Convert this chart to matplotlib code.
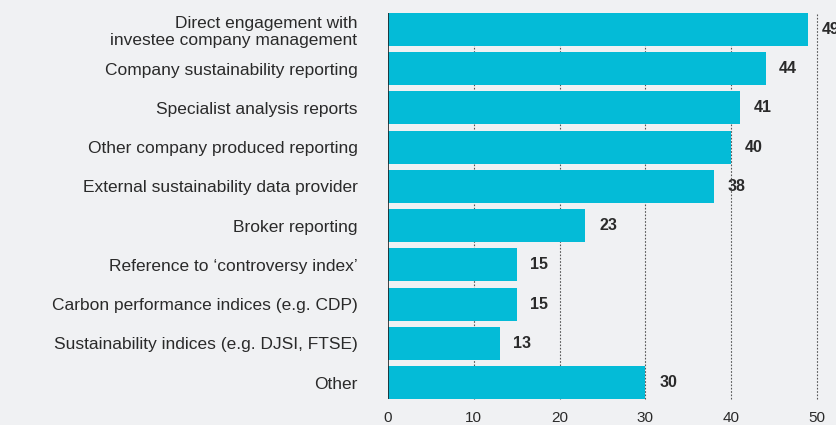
import matplotlib
matplotlib.use("Agg")
import matplotlib.pyplot as plt
from matplotlib import font_manager

categories = [
    "Direct engagement with\ninvestee company management",
    "Company sustainability reporting",
    "Specialist analysis reports",
    "Other company produced reporting",
    "External sustainability data provider",
    "Broker reporting",
    "Reference to \u2018controversy index\u2019",
    "Carbon performance indices (e.g. CDP)",
    "Sustainability indices (e.g. DJSI, FTSE)",
    "Other",
]
values = [49, 44, 41, 40, 38, 23, 15, 15, 13, 30]
x_ticks = [0, 10, 20, 30, 40, 50]

names = {f.name for f in font_manager.fontManager.ttflist}
fam = ["Liberation Sans Narrow", "DejaVu Sans"] if "Liberation Sans Narrow" in names else ["Liberation Sans", "DejaVu Sans"]
plt.rcParams["font.family"] = fam

bg = "#f0f1f3"
bar_color = "#04bbd7"
text_color = "#2a2a2a"

fig = plt.figure(figsize=(8.37, 4.25), dpi=100, facecolor=bg)
ax = fig.add_axes([0.4636, 0.0612, 0.5125, 0.9082], facecolor=bg)

y = list(range(len(categories)))
ax.barh(y, values, height=0.84, color=bar_color, zorder=3)
ax.set_ylim(len(categories) - 0.58, -0.42)
ax.set_xlim(0, 50)

for t in x_ticks[1:]:
    ax.axvline(t, color="#555555", lw=0.8, ls=(0, (1.5, 1.5)), zorder=1, clip_on=False)
ax.axvline(0, color="#222222", lw=1.2, zorder=4)

for yi, v in zip(y, values):
    ax.text(v + 1.6, yi, str(v), va="center", ha="left", fontsize=11.5,
            fontweight="bold", color=text_color, clip_on=False)

ax.set_yticks(y)
ax.set_yticklabels(categories, fontsize=12.5, color=text_color, linespacing=1.15)
ax.set_xticks(x_ticks)
ax.set_xticklabels([str(t) for t in x_ticks], fontsize=11, color=text_color)
ax.tick_params(axis="both", length=0)
ax.tick_params(axis="y", pad=22)
ax.tick_params(axis="x", pad=9)
for s in ax.spines.values():
    s.set_visible(False)

fig.savefig("out.png", dpi=100, facecolor=bg)
